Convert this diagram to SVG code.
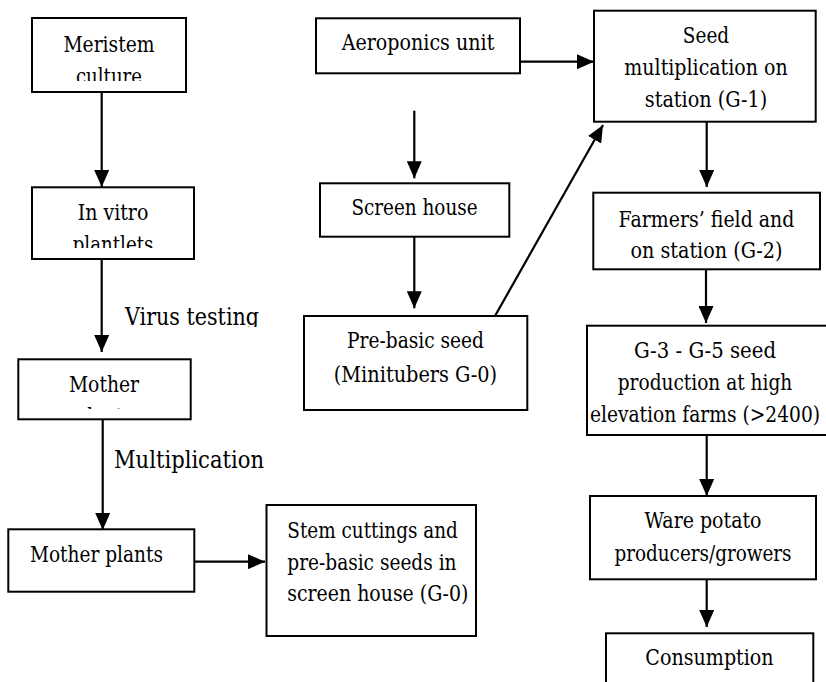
<svg xmlns="http://www.w3.org/2000/svg" width="826" height="682" viewBox="0 0 826 682">
<style>
.box{fill:#fff;stroke:#000;stroke-width:2}
text{font-family:"DejaVu Serif",serif;fill:#000}
.t{font-size:22px}
.c{text-anchor:middle}
.lbl{font-size:24px}
.ln{stroke:#000;stroke-width:2.2;fill:none;marker-end:url(#ah)}
</style>
<defs>
<marker id="ah" markerUnits="userSpaceOnUse" markerWidth="17" markerHeight="15" refX="17" refY="7.5" orient="auto">
<path d="M0,0 L17,7.5 L0,15 z" fill="#000"/>
</marker>
<clipPath id="cMer"><rect x="32" y="18" width="154" height="63"/></clipPath>
<clipPath id="cVit"><rect x="32" y="187" width="162" height="61"/></clipPath>
<clipPath id="cMot"><rect x="18" y="359" width="173" height="50"/></clipPath>
<clipPath id="cVir"><rect x="100" y="290" width="200" height="37"/></clipPath>
</defs>
<rect width="826" height="682" fill="#fff"/>
<g id="connectors">
<line class="ln" x1="101.7" y1="92" x2="101.7" y2="187"/>
<line class="ln" x1="101.7" y1="259" x2="101.7" y2="352"/>
<line class="ln" x1="102.7" y1="419" x2="102.7" y2="530"/>
<line class="ln" x1="194" y1="561.7" x2="265" y2="561.7"/>
<line class="ln" x1="520" y1="61.7" x2="594" y2="61.7"/>
<line class="ln" x1="414.3" y1="110.7" x2="414.3" y2="178.3"/>
<line class="ln" x1="414.3" y1="237" x2="414.3" y2="308.3"/>
<line class="ln" x1="495" y1="316" x2="603" y2="125"/>
<line class="ln" x1="706.7" y1="122" x2="706.7" y2="187"/>
<line class="ln" x1="706" y1="269" x2="706" y2="323"/>
<line class="ln" x1="706.7" y1="436" x2="706.7" y2="496"/>
<line class="ln" x1="706.7" y1="579" x2="706.7" y2="627"/>
</g>
<g id="label-virus" clip-path="url(#cVir)"><text class="lbl" x="125" y="325" textLength="134" lengthAdjust="spacingAndGlyphs">Virus testing</text></g>
<g id="label-mult"><text class="lbl" x="114" y="468" textLength="150" lengthAdjust="spacingAndGlyphs">Multiplication</text></g>
<g id="meristem">
<rect class="box" x="32" y="18" width="154" height="74"/>
<g clip-path="url(#cMer)"><text class="t c" x="109" y="51.7" textLength="91.2" lengthAdjust="spacingAndGlyphs">Meristem</text><text class="t c" x="109" y="83.7" textLength="66.1" lengthAdjust="spacingAndGlyphs">culture</text></g>
</g>
<g id="invitro">
<rect class="box" x="32" y="187.3" width="162" height="71.7"/>
<g clip-path="url(#cVit)"><text class="t c" x="113" y="220" textLength="70.7" lengthAdjust="spacingAndGlyphs">In vitro</text><text class="t c" x="113" y="252" textLength="80.7" lengthAdjust="spacingAndGlyphs">plantlets</text></g>
</g>
<g id="mother">
<rect class="box" x="18.3" y="359.3" width="172.4" height="60"/>
<g clip-path="url(#cMot)"><text class="t c" x="104" y="391.7" textLength="70.1" lengthAdjust="spacingAndGlyphs">Mother</text><text class="t c" x="104" y="423.7" textLength="56.9" lengthAdjust="spacingAndGlyphs">plants</text></g>
</g>
<g id="motherplants">
<rect class="box" x="8.3" y="529.3" width="186" height="62.4"/>
<text class="t" x="30" y="562.3" textLength="132.9" lengthAdjust="spacingAndGlyphs">Mother plants</text>
</g>
<g id="stemcuttings">
<rect class="box" x="266.5" y="505" width="209.5" height="131"/>
<text class="t" x="287.3" y="538.3" textLength="170.6" lengthAdjust="spacingAndGlyphs">Stem cuttings and</text>
<text class="t" x="287.3" y="570" textLength="169.2" lengthAdjust="spacingAndGlyphs">pre-basic seeds in</text>
<text class="t" x="287.3" y="600.7" textLength="181.1" lengthAdjust="spacingAndGlyphs">screen house (G-0)</text>
</g>
<g id="aeroponics">
<rect class="box" x="316" y="18.3" width="204" height="55"/>
<text class="t c" x="418" y="50" textLength="152.7" lengthAdjust="spacingAndGlyphs">Aeroponics unit</text>
</g>
<g id="screenhouse">
<rect class="box" x="320" y="183.3" width="189.3" height="53.4"/>
<text class="t c" x="414.5" y="215" textLength="126.2" lengthAdjust="spacingAndGlyphs">Screen house</text>
</g>
<g id="prebasic">
<rect class="box" x="304" y="316" width="223.3" height="94"/>
<text class="t c" x="415.5" y="348.3" textLength="136.8" lengthAdjust="spacingAndGlyphs">Pre-basic seed</text>
<text class="t c" x="415.5" y="381.7" textLength="163.3" lengthAdjust="spacingAndGlyphs">(Minitubers G-0)</text>
</g>
<g id="seedmult">
<rect class="box" x="594" y="10.7" width="221.7" height="111"/>
<text class="t c" x="706" y="43.3" textLength="46.3" lengthAdjust="spacingAndGlyphs">Seed</text>
<text class="t c" x="706" y="75" textLength="163.3" lengthAdjust="spacingAndGlyphs">multiplication on</text>
<text class="t c" x="706" y="106.7" textLength="122.3" lengthAdjust="spacingAndGlyphs">station (G-1)</text>
</g>
<g id="farmers">
<rect class="box" x="593.3" y="192.7" width="226.7" height="76.6"/>
<text class="t c" x="706.5" y="226.7" textLength="175.8" lengthAdjust="spacingAndGlyphs">Farmers’ field and</text>
<text class="t c" x="706.5" y="258.3" textLength="152" lengthAdjust="spacingAndGlyphs">on station (G-2)</text>
</g>
<g id="g3g5">
<rect class="box" x="587" y="325.7" width="245" height="109.3"/>
<text class="t c" x="705" y="358.3" textLength="142.1" lengthAdjust="spacingAndGlyphs">G-3 - G-5 seed</text>
<text class="t c" x="705" y="390" textLength="174.5" lengthAdjust="spacingAndGlyphs">production at high</text>
<text class="t c" x="705" y="421.7" textLength="230.2" lengthAdjust="spacingAndGlyphs">elevation farms (&gt;2400)</text>
</g>
<g id="ware">
<rect class="box" x="590" y="496" width="226" height="83.3"/>
<text class="t c" x="703" y="528.3" textLength="117" lengthAdjust="spacingAndGlyphs">Ware potato</text>
<text class="t c" x="703" y="560.7" textLength="177.1" lengthAdjust="spacingAndGlyphs">producers/growers</text>
</g>
<g id="consumption">
<rect class="box" x="606" y="633.3" width="207.3" height="60"/>
<text class="t c" x="709.5" y="665" textLength="128.3" lengthAdjust="spacingAndGlyphs">Consumption</text>
</g>
</svg>
